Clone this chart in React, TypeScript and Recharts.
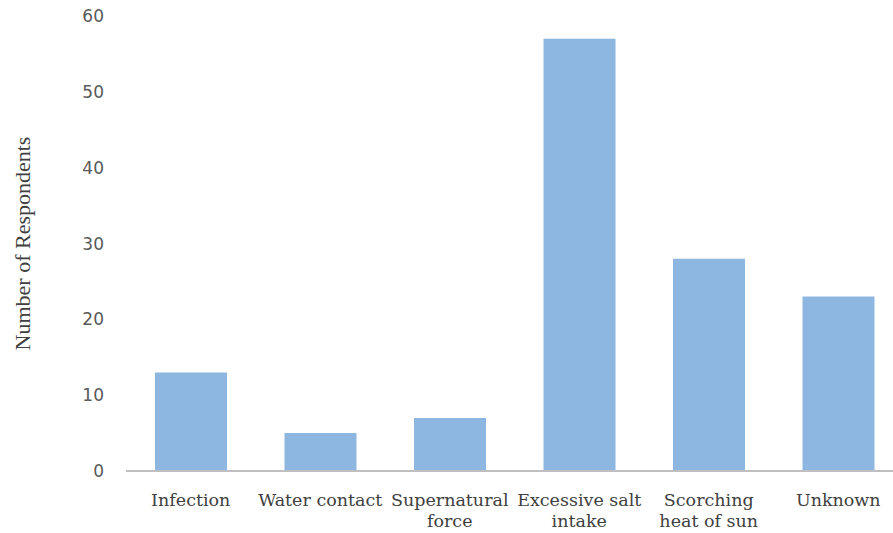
import React from 'react';
import { BarChart, Bar, XAxis, YAxis, Label } from 'recharts';

// Perceived causes and respondent counts
const causes = [
  'Infection',
  'Water contact',
  'Supernatural\nforce',
  'Excessive salt\nintake',
  'Scorching\nheat of sun',
  'Unknown',
];
const respondents = [13, 5, 7, 57, 28, 23];
const yTicks = [0, 10, 20, 30, 40, 50, 60];

const data = causes.map((cause, i) => ({ cause, respondents: respondents[i] }));

const CauseTick = (props: any) => {
  const { x, y, payload } = props;
  const lines = String(payload.value).split('\n');
  return (
    <text
      x={x}
      y={y}
      textAnchor="middle"
      fill="#404040"
      fontFamily="'DejaVu Serif', serif"
      fontSize={17.5}
    >
      {lines.map((line, i) => (
        <tspan key={i} x={x} dy={i === 0 ? 29 : 21}>
          {line}
        </tspan>
      ))}
    </text>
  );
};

const AxisTitle = (props: any) => {
  const { viewBox } = props;
  const cx = 22;
  const cy = viewBox.y + viewBox.height / 2;
  return (
    <text
      x={cx}
      y={cy}
      transform={`rotate(-90, ${cx}, ${cy})`}
      textAnchor="middle"
      dominantBaseline="central"
      fill="#404040"
      fontFamily="'Liberation Serif', serif"
      fontSize={22}
    >
      Number of Respondents
    </text>
  );
};

export default function App() {
  return (
    <div
      style={{
        position: 'absolute',
        left: 0,
        top: 0,
        width: 893,
        height: 533,
        overflow: 'hidden',
        background: '#fff',
      }}
    >
      {/* plot area runs a little past the right edge of the frame */}
      <BarChart
        width={903}
        height={533}
        data={data}
        margin={{ top: 16, right: 0, bottom: 0, left: 0 }}
        barSize={72}
      >
        <XAxis
          dataKey="cause"
          axisLine={{ stroke: '#bfbfbf', strokeWidth: 2 }}
          tickLine={false}
          tickMargin={0}
          tick={<CauseTick />}
          interval={0}
          height={62}
        />
        <YAxis
          width={126}
          domain={[0, 60]}
          ticks={yTicks}
          axisLine={false}
          tickLine={false}
          tickMargin={16}
          tick={{ fill: '#595959', fontSize: 17, fontFamily: "'DejaVu Sans', sans-serif" }}
        >
          <Label content={<AxisTitle />} />
        </YAxis>
        <Bar dataKey="respondents" fill="#8db7e1" isAnimationActive={false} />
      </BarChart>
    </div>
  );
}
